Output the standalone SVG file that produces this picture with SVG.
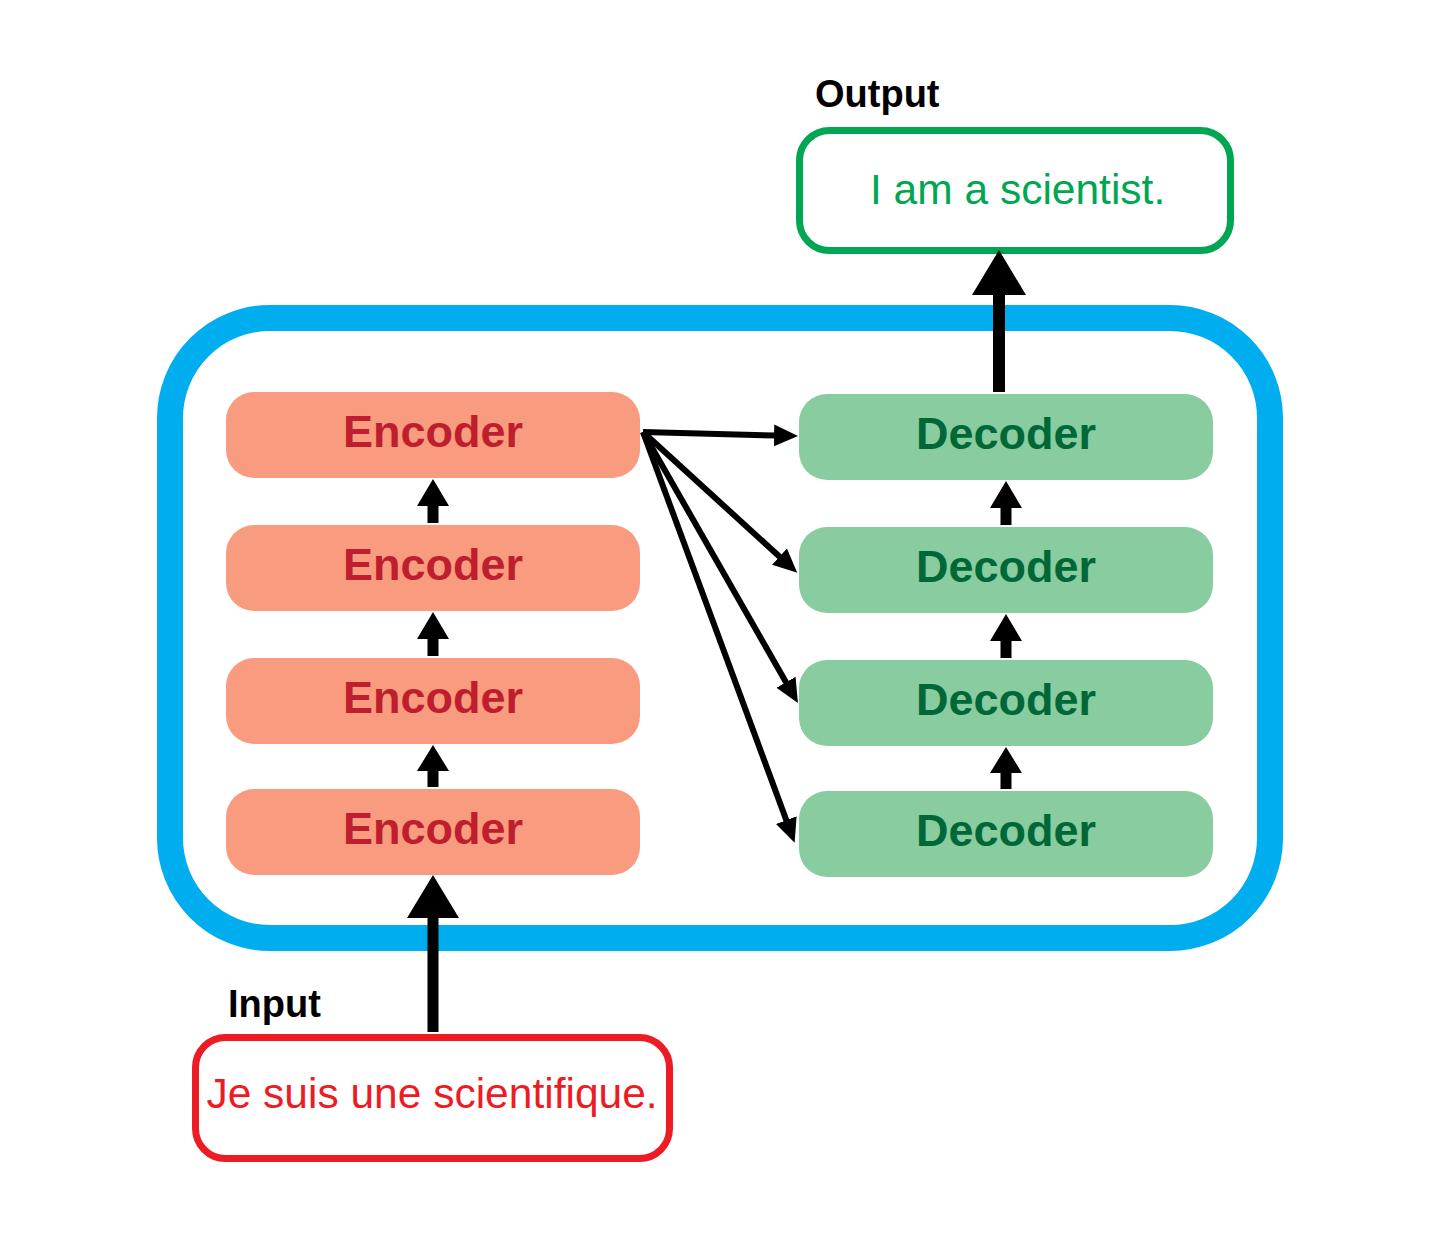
<svg xmlns="http://www.w3.org/2000/svg" width="1437" height="1241" viewBox="0 0 1437 1241">
<defs>
<style>
.enc rect{fill:#F89B7E}
.enc text{fill:#BE1E2D;font-family:"Liberation Sans",Arial,sans-serif;font-weight:bold;font-size:45px;text-anchor:middle}
.dec rect{fill:#88CCA0}
.dec text{fill:#006837;font-family:"Liberation Sans",Arial,sans-serif;font-weight:bold;font-size:45px;text-anchor:middle}
.lbl{fill:#000;font-family:"Liberation Sans",Arial,sans-serif;font-weight:bold;font-size:38px}
.fan{stroke:#000;stroke-width:6;fill:none;marker-end:url(#ah)}
</style>
<marker id="ah" markerUnits="userSpaceOnUse" markerWidth="24" markerHeight="24" viewBox="0 0 24 24" refX="2" refY="12" orient="auto">
<path d="M0,1 L24,12 L0,23 Z" fill="#000"/>
</marker>
</defs>
<rect width="1437" height="1241" fill="#fff"/>
<g id="container">
<rect x="170" y="318" width="1100" height="620" rx="100" ry="100" fill="none" stroke="#00AEEF" stroke-width="26"/>
</g>
<g id="output">
<text class="lbl" x="815" y="107">Output</text>
<rect x="799.5" y="130.5" width="431" height="120" rx="30" fill="#fff" stroke="#00A651" stroke-width="7"/>
<text x="870" y="204" font-family="Liberation Sans, Arial, sans-serif" font-size="42.5" fill="#00A651">I am a scientist.</text>
</g>
<g id="input">
<text class="lbl" x="228" y="1017">Input</text>
<rect x="195.5" y="1037.5" width="474" height="121" rx="30" fill="#fff" stroke="#ED1C24" stroke-width="7"/>
<text x="432" y="1108" font-family="Liberation Sans, Arial, sans-serif" font-size="42.5" fill="#ED1C24" text-anchor="middle">Je suis une scientifique.</text>
</g>
<g id="encoder1" class="enc"><rect x="226" y="392" width="414" height="86" rx="28"/><text x="433" y="447">Encoder</text></g>
<g id="encoder2" class="enc"><rect x="226" y="525" width="414" height="86" rx="28"/><text x="433" y="580">Encoder</text></g>
<g id="encoder3" class="enc"><rect x="226" y="658" width="414" height="86" rx="28"/><text x="433" y="713">Encoder</text></g>
<g id="encoder4" class="enc"><rect x="226" y="789" width="414" height="86" rx="28"/><text x="433" y="844">Encoder</text></g>
<g id="decoder1" class="dec"><rect x="799" y="394" width="414" height="86" rx="28"/><text x="1006" y="449">Decoder</text></g>
<g id="decoder2" class="dec"><rect x="799" y="527" width="414" height="86" rx="28"/><text x="1006" y="582">Decoder</text></g>
<g id="decoder3" class="dec"><rect x="799" y="660" width="414" height="86" rx="28"/><text x="1006" y="715">Decoder</text></g>
<g id="decoder4" class="dec"><rect x="799" y="791" width="414" height="86" rx="28"/><text x="1006" y="846">Decoder</text></g>
<g id="connectors" fill="#000">
<!-- encoder stack arrows -->
<path d="M433,479 L449,506 L438.5,506 L438.5,523 L427.5,523 L427.5,506 L417,506 Z"/>
<path d="M433,612 L449,639 L438.5,639 L438.5,656 L427.5,656 L427.5,639 L417,639 Z"/>
<path d="M433,745 L449,771 L438.5,771 L438.5,787 L427.5,787 L427.5,771 L417,771 Z"/>
<!-- decoder stack arrows -->
<path d="M1006,481 L1022,508 L1011.5,508 L1011.5,525 L1000.5,525 L1000.5,508 L990,508 Z"/>
<path d="M1006,614 L1022,641 L1011.5,641 L1011.5,658 L1000.5,658 L1000.5,641 L990,641 Z"/>
<path d="M1006,747 L1022,773 L1011.5,773 L1011.5,789 L1000.5,789 L1000.5,773 L990,773 Z"/>
<!-- input arrow -->
<path d="M433,875 L459,918 L438.5,918 L438.5,1032 L427.5,1032 L427.5,918 L407,918 Z"/>
<!-- output arrow -->
<path d="M999,250 L1026,295 L1005,295 L1005,392 L993,392 L993,295 L972,295 Z"/>
<!-- fan-out -->
<line class="fan" x1="643" y1="432" x2="776" y2="435.5"/>
<line class="fan" x1="643" y1="432" x2="781" y2="558"/>
<line class="fan" x1="643" y1="432" x2="787" y2="684"/>
<line class="fan" x1="643" y1="432" x2="787" y2="822"/>
</g>
</svg>
